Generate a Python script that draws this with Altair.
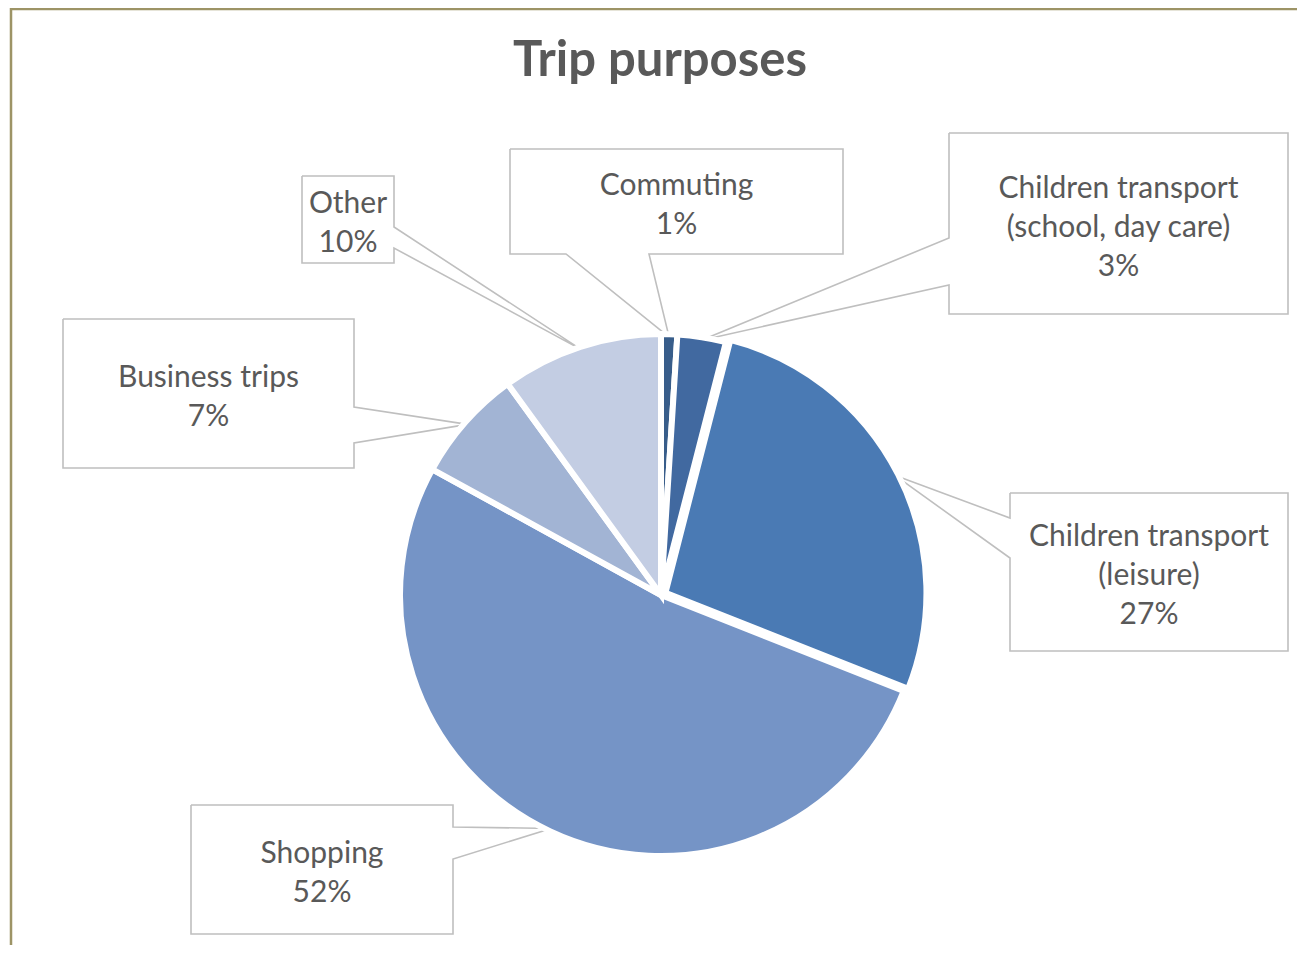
import math
import altair as alt
import pandas as pd

# ---------------- data ----------------
categories = [
    "Commuting",
    "Children transport (school, day care)",
    "Children transport (leisure)",
    "Shopping",
    "Business trips",
    "Other",
]
label_names = [
    "Commuting",
    "Children transport\n(school, day care)",
    "Children transport\n(leisure)",
    "Shopping",
    "Business trips",
    "Other",
]
shares = [1, 3, 27, 52, 7, 10]
title_text = "Trip purposes"

# ---------------- styles / layout ----------------
colors = ["#385d8a", "#4169a0", "#4a7ab4", "#7594c6", "#a2b4d4", "#c3cde3"]
explode = [0, 0, 5, 0, 0, 0]          # px offset of each slice along its bisector
PAGE = 8                               # page margin
W, H = 1289, 937                       # svg size (page coords minus margins)
CX, CY, R = 661, 595, 261              # pie centre / radius in page coords
STROKE = 6
TEXT_COLOR = "#595959"
BOX_COLOR = "#bfbfbf"
FONT = "Lato"
FONT_SIZE = 30
LINE_H = 39

# callout boxes in page coords: x0, y0, x1, y1, side of notch, notch a, notch b
boxes = [
    (510, 149, 843, 254, "bottom", 566, 649),
    (949, 133, 1288, 314, "left", 238, 285),
    (1010, 493, 1288, 651, "left", 518, 558),
    (191, 805, 453, 934, "right", 827, 859),
    (63, 319, 354, 468, "right", 407, 443),
    (302, 176, 394, 263, "right", 227, 248),
]

# ---------------- derived tables ----------------
starts, ends, c = [], [], 0
for v in shares:
    starts.append(c)
    c += v
    ends.append(c)
total = c

pie_df = pd.DataFrame({"category": categories, "start": starts, "end": ends})

rv = R - STROKE / 2  # visible radius
poly_rows, text_rows = [], []
for i, cat in enumerate(categories):
    mid = (starts[i] + ends[i]) / 2 / total * 2 * math.pi
    sx, sy = math.sin(mid), -math.cos(mid)
    tip = (CX + (rv + explode[i]) * sx, CY + (rv + explode[i]) * sy)
    x0, y0, x1, y1, side, a, b = boxes[i]
    if side == "bottom":
        pts = [(x0, y0), (x1, y0), (x1, y1), (b, y1), tip, (a, y1), (x0, y1), (x0, y0)]
    elif side == "left":
        pts = [(x0, y0), (x1, y0), (x1, y1), (x0, y1), (x0, b), tip, (x0, a), (x0, y0)]
    else:
        pts = [(x0, y0), (x1, y0), (x1, a), tip, (x1, b), (x1, y1), (x0, y1), (x0, y0)]
    for k, (px, py) in enumerate(pts):
        poly_rows.append({"category": cat, "k": k, "px": px - PAGE, "py": py - PAGE})
    label = f"{label_names[i]}\n{shares[i]}%"
    n_lines = label.count("\n") + 1
    text_rows.append({
        "category": cat,
        "label": label,
        "tx": (x0 + x1) / 2 - PAGE,
        "ty": (y0 + y1) / 2 - (n_lines - 1) / 2 * LINE_H - PAGE + 4,
    })

poly_df = pd.DataFrame(poly_rows)
text_df = pd.DataFrame(text_rows)

xs = alt.Scale(domain=[0, W], range=[0, W], nice=False, zero=False)
ys = alt.Scale(domain=[0, H], range=[0, H], nice=False, zero=False)

# ---------------- layers ----------------
frame = alt.Chart(pd.DataFrame({"a": [0]})).mark_rule(color="#9d9466", strokeWidth=2.5)
frame_top = frame.encode(x=alt.value(2), x2=alt.value(W), y=alt.value(1))
frame_left = frame.encode(x=alt.value(3), y=alt.value(0), y2=alt.value(H))

callouts = alt.Chart(poly_df).mark_line(color=BOX_COLOR, strokeWidth=1.6, strokeJoin="miter").encode(
    x=alt.X("px:Q", scale=xs, axis=None),
    y=alt.Y("py:Q", scale=ys, axis=None),
    detail="category:N",
    order="k:Q",
)

theta = alt.Theta("start:Q", scale=alt.Scale(domain=[0, total], range=[0, 2 * math.pi]))
color = alt.Color("category:N", scale=alt.Scale(domain=categories, range=colors), legend=None)

arc_layers = []
for i, cat in enumerate(categories):
    mid = (starts[i] + ends[i]) / 2 / total * 2 * math.pi
    dx, dy = explode[i] * math.sin(mid), -explode[i] * math.cos(mid)
    arc_layers.append(
        alt.Chart(pie_df).transform_filter(alt.datum.category == cat)
        .mark_arc(radius=R, stroke="white", strokeWidth=STROKE)
        .encode(theta=theta, theta2="end:Q", color=color,
                x=alt.value(CX - PAGE + dx), y=alt.value(CY - PAGE + dy))
    )

labels = alt.Chart(text_df).mark_text(
    font=FONT, fontSize=FONT_SIZE, color=TEXT_COLOR, align="center", baseline="middle",
    lineBreak="\n", lineHeight=LINE_H,
).encode(
    x=alt.X("tx:Q", scale=xs, axis=None),
    y=alt.Y("ty:Q", scale=ys, axis=None),
    text="label:N",
)

title = alt.Chart(pd.DataFrame({"t": [title_text]})).mark_text(
    font=FONT, fontSize=49, fontWeight="bold", color=TEXT_COLOR, align="center", baseline="alphabetic",
).encode(x=alt.value(660 - PAGE), y=alt.value(76 - PAGE), text="t:N")

chart = alt.layer(frame_top, frame_left, callouts, *arc_layers, labels, title).properties(
    width=W, height=H, padding=0, autosize=alt.AutoSizeParams(type="none"),
).configure_view(stroke=None).resolve_scale(theta="shared")

chart.save("out.html", embed_options={"renderer": "svg", "actions": False})
